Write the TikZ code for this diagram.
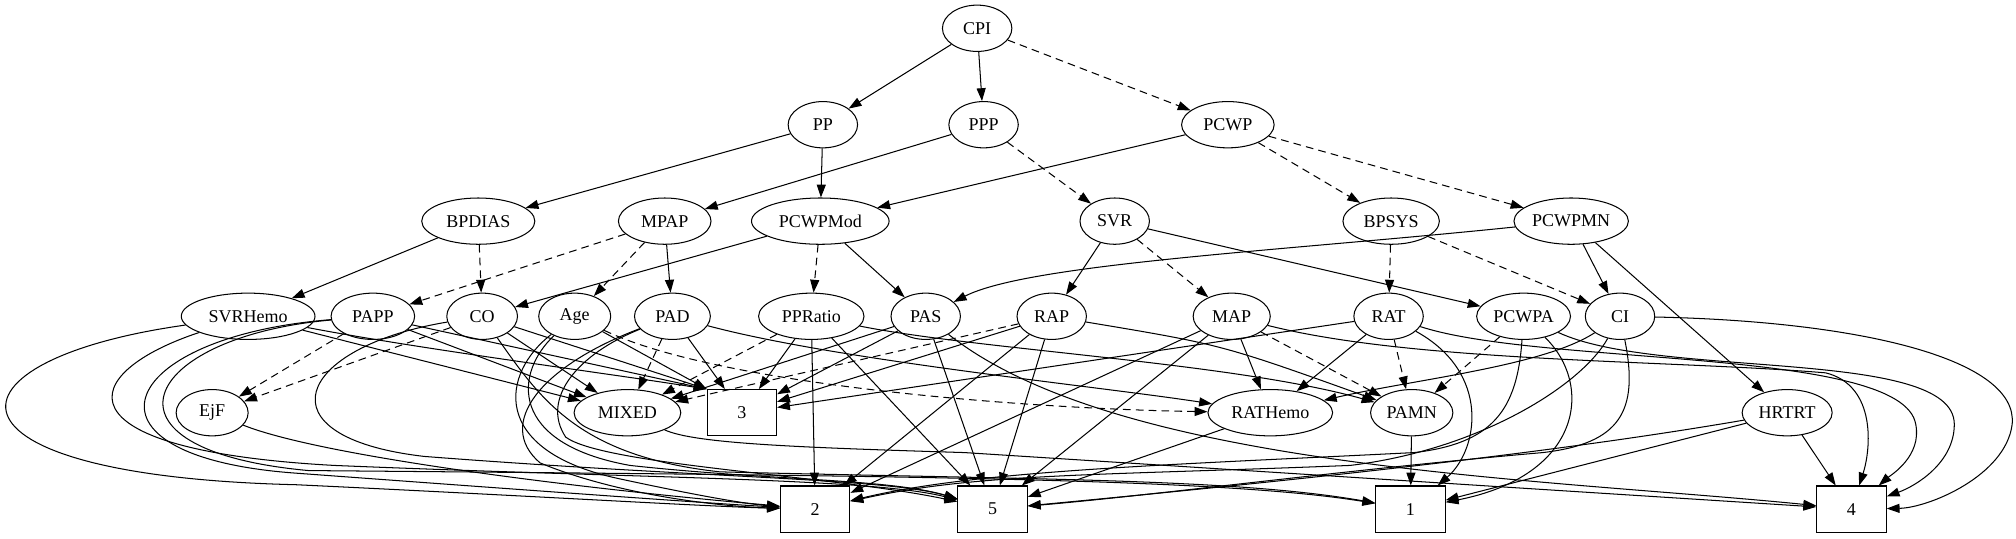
\documentclass[tikz,border=0pt]{standalone}
\usepackage{fontspec}
\setmainfont{Liberation Serif}
\usetikzlibrary{shapes.geometric,arrows.meta}
\tikzset{
  ell/.style={ellipse,draw,line width=0.8pt,minimum height=36pt,minimum width=#1,inner sep=0pt,font=\fontsize{14}{16}\selectfont},
  boxn/.style={rectangle,draw,line width=0.8pt,minimum height=36pt,minimum width=54pt,inner sep=0pt,font=\fontsize{14}{16}\selectfont},
  arr/.style={line width=0.8pt,-{Triangle[length=10pt,width=7pt]}},
  darr/.style={arr,dash pattern=on 6pt off 4pt}
}
\begin{document}
\begin{tikzpicture}[x=1pt,y=-1pt]
\useasboundingbox (0,0) rectangle (1568,419);
% nodes
\node[ell=54pt] (CPI) at (760,22) {CPI};
\node[ell=54pt] (PP) at (640,97) {PP};
\node[ell=54pt] (PPP) at (765,97) {PPP};
\node[ell=72pt] (PCWP) at (955,97) {PCWP};
\node[ell=88pt] (BPDIAS) at (372,172) {BPDIAS};
\node[ell=72pt] (MPAP) at (517,172) {MPAP};
\node[ell=107pt] (PCWPMod) at (638,172) {PCWPMod};
\node[ell=54pt] (SVR) at (867,172) {SVR};
\node[ell=75pt] (BPSYS) at (1082,172) {BPSYS};
\node[ell=89pt] (PCWPMN) at (1222,172) {PCWPMN};
\node[ell=104pt] (SVRHemo) at (193,246) {SVRHemo};
\node[ell=65pt] (PAPP) at (290,246) {PAPP};
\node[ell=55pt] (CO) at (375,246) {CO};
\node[ell=56pt] (Age) at (447,246) {Age};
\node[ell=59pt] (PAD) at (523,246) {PAD};
\node[ell=82pt] (PPRatio) at (631,246) {PPRatio};
\node[ell=54pt] (PAS) at (720,246) {PAS};
\node[ell=54pt] (RAP) at (818,246) {RAP};
\node[ell=60pt] (MAP) at (958,246) {MAP};
\node[ell=54pt] (RAT) at (1080,246) {RAT};
\node[ell=73pt] (PCWPA) at (1185,246) {PCWPA};
\node[ell=54pt] (CI) at (1260,246) {CI};
\node[ell=56pt] (EjF) at (165,321) {EjF};
\node[ell=83pt] (MIXED) at (488,321) {MIXED};
\node[boxn] (B3) at (577,321) {3};
\node[ell=97pt] (RATHemo) at (988,321) {RATHemo};
\node[ell=64pt] (PAMN) at (1098,321) {PAMN};
\node[ell=70pt] (HRTRT) at (1390,321) {HRTRT};
\node[boxn] (B2) at (634,396) {2};
\node[boxn] (B5) at (772,396) {5};
\node[boxn] (B1) at (1097,396) {1};
\node[boxn] (B4) at (1440,396) {4};
% upper ranks
\draw[arr] (CPI) -- (PP);
\draw[arr] (CPI) -- (PPP);
\draw[darr] (CPI) -- (PCWP);
\draw[arr] (PP) -- (BPDIAS);
\draw[arr] (PP) -- (PCWPMod);
\draw[arr] (PPP) -- (MPAP);
\draw[darr] (PPP) -- (SVR);
\draw[arr] (PCWP) -- (PCWPMod);
\draw[darr] (PCWP) -- (BPSYS);
\draw[darr] (PCWP) -- (PCWPMN);
\draw[arr] (BPDIAS) -- (SVRHemo);
\draw[darr] (BPDIAS) -- (CO);
\draw[darr] (MPAP) -- (PAPP);
\draw[darr] (MPAP) -- (Age);
\draw[arr] (MPAP) -- (PAD);
\draw[arr] (PCWPMod) -- (CO);
\draw[darr] (PCWPMod) -- (PPRatio);
\draw[arr] (PCWPMod) -- (PAS);
\draw[arr] (SVR) -- (RAP);
\draw[darr] (SVR) -- (MAP);
\draw[arr] (SVR) -- (PCWPA);
\draw[darr] (BPSYS) -- (RAT);
\draw[darr] (BPSYS) -- (CI);
\draw[arr] (PCWPMN) .. controls (1000,195) and (800,205) .. (PAS);
\draw[arr] (PCWPMN) -- (CI);
\draw[arr] (PCWPMN) -- (HRTRT);
% rank 4 to rank 5
\draw[arr] (SVRHemo) -- (MIXED);
\draw[arr] (SVRHemo) .. controls (330,272) and (470,290) .. (B3.north west);
\draw[darr] (PAPP) -- (EjF);
\draw[arr] (PAPP) -- (MIXED);
\draw[arr] (PAPP) -- (B3.north west);
\draw[darr] (CO) -- (EjF);
\draw[arr] (CO) -- (MIXED);
\draw[arr] (CO) -- (B3.north west);
\draw[arr] (Age) -- (B3.north west);
\draw[darr] (Age) .. controls (560,300) and (800,318) .. (RATHemo);
\draw[darr] (PAD) -- (MIXED);
\draw[arr] (PAD) -- (B3);
\draw[arr] (PAD) .. controls (650,280) and (850,300) .. (RATHemo);
\draw[darr] (PPRatio) -- (MIXED);
\draw[arr] (PPRatio) -- (B3);
\draw[arr] (PPRatio) .. controls (760,272) and (960,282) .. (PAMN);
\draw[arr] (PAS) -- (MIXED);
\draw[arr] (PAS) -- (B3);
\draw[darr] (RAP) -- (MIXED);
\draw[arr] (RAP) -- (B3);
\draw[arr] (RAP) .. controls (950,268) .. (PAMN);
\draw[arr] (MAP) -- (RATHemo);
\draw[darr] (MAP) -- (PAMN);
\draw[arr] (RAT) -- (B3);
\draw[arr] (RAT) -- (RATHemo);
\draw[darr] (RAT) -- (PAMN);
\draw[darr] (PCWPA) -- (PAMN);
\draw[arr] (CI) .. controls (1200,285) and (1100,295) .. (RATHemo);
% rank 4 to bottom boxes
\draw[arr] (PPRatio) -- (B2);
\draw[arr] (PPRatio) -- (B5);
\draw[arr] (PAS) -- (B5);
\draw[arr] (PAS) .. controls (870,365) and (1200,372) .. (B4);
\draw[arr] (RAP) -- (B2);
\draw[arr] (RAP) -- (B5);
\draw[arr] (MAP) -- (B2);
\draw[arr] (MAP) -- (B5);
\draw[arr] (MAP) .. controls (1100,282) and (1300,280) .. (1420,290) .. controls (1460,300) and (1455,350) .. (B4);
\draw[arr] (RAT) .. controls (1160,290) and (1150,350) .. (B1);
\draw[arr] (RAT) .. controls (1200,285) and (1480,270) .. (1490,330) .. controls (1495,355) and (1470,370) .. (B4);
\draw[arr] (PCWPA) .. controls (1240,300) and (1230,370) .. (B1);
\draw[arr] (PCWPA) .. controls (1180,320) and (1160,345) .. (1100,352) .. controls (900,362) and (760,366) .. (B2);
\draw[arr] (PCWPA) .. controls (1290,295) and (1520,270) .. (1520,330) .. controls (1520,360) and (1490,378) .. (B4);
\draw[arr] (CI) .. controls (1230,300) and (1150,350) .. (1050,362) .. controls (850,370) and (760,368) .. (B2);
\draw[arr] (CI) .. controls (1275,320) and (1260,345) .. (1200,352) .. controls (1050,365) and (900,385) .. (B5);
\draw[arr] (CI) .. controls (1450,250) and (1570,280) .. (1565,330) .. controls (1560,370) and (1500,395) .. (B4);
% left loops
\draw[arr] (SVRHemo) .. controls (-50,280) and (-60,370) .. (230,377) .. controls (400,385) and (550,394) .. (B2);
\draw[arr] (SVRHemo) .. controls (60,290) and (40,350) .. (260,362) .. controls (500,372) and (680,372) .. (B5);
\draw[arr] (PAPP) .. controls (90,262) and (50,355) .. (230,368) .. controls (420,382) and (560,392) .. (B2);
\draw[arr] (PAPP) .. controls (110,262) and (65,350) .. (240,366) .. controls (700,370) and (950,372) .. (B1);
\draw[arr] (CO) .. controls (230,270) and (200,340) .. (330,355) .. controls (550,372) and (690,372) .. (B5);
\draw[arr] (CO) .. controls (420,310) and (450,355) .. (560,367) .. controls (800,373) and (960,372) .. (B1);
\draw[arr] (Age) .. controls (390,290) and (380,350) .. (480,372) .. controls (540,385) and (580,392) .. (B2);
\draw[arr] (Age) .. controls (400,290) and (395,345) .. (490,362) .. controls (600,374) and (690,372) .. (B5);
\draw[arr] (PAD) .. controls (420,285) and (385,330) .. (420,360) .. controls (480,385) and (560,394) .. (B2);
\draw[arr] (PAD) .. controls (450,275) and (420,310) .. (440,340) .. controls (470,362) and (650,370) .. (B5);
\draw[arr] (EjF) .. controls (250,355) and (450,380) .. (B2);
% rank 5 to bottom boxes
\draw[arr] (MIXED) .. controls (540,345) and (620,348) .. (750,352) -- (B4);
\draw[arr] (RATHemo) -- (B5);
\draw[arr] (PAMN) -- (B1);
\draw[arr] (HRTRT) -- (B1);
\draw[arr] (HRTRT) -- (B4);
\draw[arr] (HRTRT) .. controls (1250,345) and (1100,365) .. (B5);
\end{tikzpicture}
\end{document}
